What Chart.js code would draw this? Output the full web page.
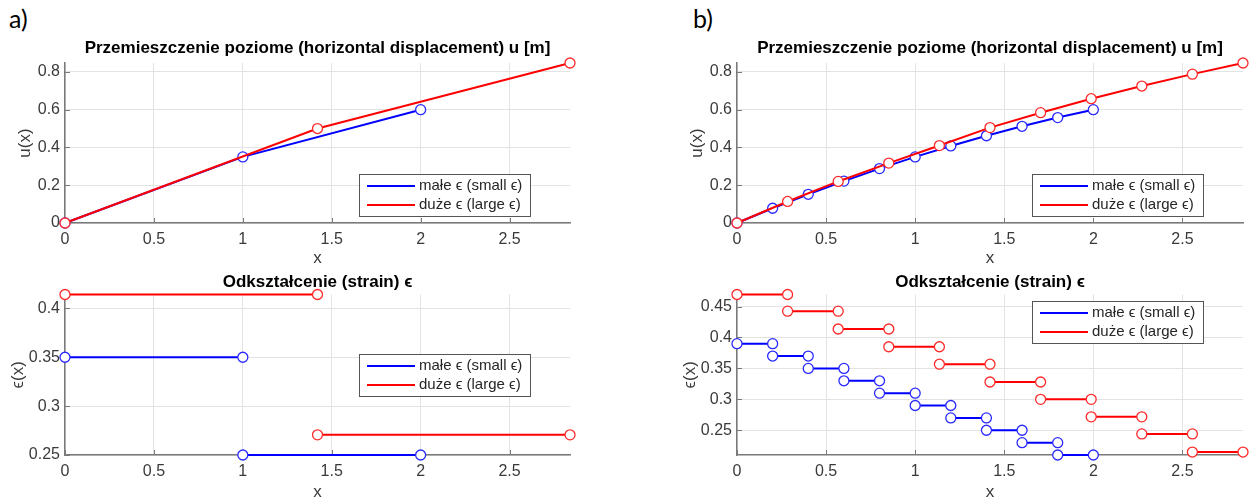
<!DOCTYPE html>
<html>
<head>
<meta charset="utf-8">
<script src="https://cdn.jsdelivr.net/npm/chart.js@4.4.1/dist/chart.umd.min.js"></script>
<style>
html, body { margin: 0; padding: 0; background: #fff; width: 1250px; height: 503px; overflow: hidden; }
canvas { position: absolute; }
.lab { position: absolute; font-family: Lato, 'Open Sans', sans-serif; font-size: 25px; color: #000; }
</style>
</head>
<body>
<div class="lab" style="left:9px; top:3px;">a)</div>
<div class="lab" style="left:693px; top:3px;">b)</div>
<canvas id="uA" width="600" height="273" style="left:0; top:0;"></canvas>
<canvas id="eA" width="600" height="253" style="left:0; top:250px;"></canvas>
<canvas id="uB" width="578" height="273" style="left:672px; top:0;"></canvas>
<canvas id="eB" width="578" height="253" style="left:672px; top:250px;"></canvas>
<script>
// a) one element (small) / one element (large)
var nodesSmallA = [0, 1, 2];
var uSmallA = [0, 0.35, 0.6];
var strainSmallA = [0.35, 0.25];
var nodesLargeA = [0, 1.42, 2.84];
var uLargeA = [0, 0.5, 0.847];
var strainLargeA = [0.4142, 0.2706];

// b) ten elements
var nodesSmallB = [0, 0.2, 0.4, 0.6, 0.8, 1.0, 1.2, 1.4, 1.6, 1.8, 2.0];
var uSmallB = [0, 0.078, 0.152, 0.222, 0.288, 0.35, 0.408, 0.462, 0.512, 0.558, 0.6];
var strainSmallB = [0.39, 0.37, 0.35, 0.33, 0.31, 0.29, 0.27, 0.25, 0.23, 0.21];
var nodesLargeB = [0, 0.284, 0.568, 0.852, 1.136, 1.42, 1.704, 1.988, 2.272, 2.556, 2.84];
var uLargeB = [0, 0.114, 0.22, 0.317, 0.41, 0.505, 0.584, 0.658, 0.725, 0.788, 0.847];
var strainLargeB = [0.4695, 0.4425, 0.4137, 0.385, 0.3568, 0.328, 0.3, 0.2717, 0.2441, 0.2148];

var labelSmall = 'ma\u0142e \u03f5 (small \u03f5)';
var labelLarge = 'du\u017ce \u03f5 (large \u03f5)';
var titleU = 'Przemieszczenie poziome (horizontal displacement) u [m]';
var titleE = 'Odkszta\u0142cenie (strain) \u03f5';

var axisC = '#7a7a7a', gridC = '#e3e3e3', textC = '#3a3a3a';
Chart.defaults.font.family = "'Liberation Sans', Arial, sans-serif";
Chart.defaults.color = textC;

function nodal(xs, ys) {
    return xs.map(function (x, i) { return { x: x, y: ys[i] }; });
}
// one flat segment per element, broken between elements
function steps(xs, vals) {
    var out = [];
    for (let i = 0; i < vals.length; i++) {
        out.push({ x: xs[i], y: vals[i] }, { x: xs[i + 1], y: vals[i] });
        if (i < vals.length - 1) out.push({ x: xs[i + 1], y: null });
    }
    return out;
}

var innerTicks = {
    id: 'innerTicks',
    beforeDatasetsDraw(chart) {
        const ctx = chart.ctx, a = chart.chartArea, x = chart.scales.x, y = chart.scales.y;
        ctx.save();
        ctx.strokeStyle = axisC;
        ctx.lineWidth = 1;
        x.ticks.forEach(function (t) {
            const p = Math.round(x.getPixelForValue(t.value)) + 0.5;
            ctx.beginPath(); ctx.moveTo(p, a.bottom); ctx.lineTo(p, a.bottom - 5); ctx.stroke();
        });
        y.ticks.forEach(function (t) {
            const p = Math.round(y.getPixelForValue(t.value)) + 0.5;
            ctx.beginPath(); ctx.moveTo(a.left, p); ctx.lineTo(a.left + 5, p); ctx.stroke();
        });
        ctx.restore();
    }
};

var boxLegend = {
    id: 'boxLegend',
    afterDraw(chart, args, o) {
        const ctx = chart.ctx, a = chart.chartArea;
        const w = 171, h = 42;
        const left = Math.round(a.right - o.right - w), top = Math.round(a.top + o.top);
        ctx.save();
        ctx.fillStyle = '#fff';
        ctx.fillRect(left, top, w, h);
        ctx.strokeStyle = '#555';
        ctx.lineWidth = 1;
        ctx.strokeRect(left + 0.5, top + 0.5, w, h);
        ctx.font = "15px 'Liberation Sans', Arial, sans-serif";
        ctx.textBaseline = 'middle';
        ctx.fillStyle = '#262626';
        chart.data.datasets.forEach(function (ds, i) {
            const yy = top + 12 + i * 19;
            ctx.strokeStyle = ds.borderColor;
            ctx.lineWidth = 2;
            ctx.beginPath(); ctx.moveTo(left + 8, yy); ctx.lineTo(left + 56, yy); ctx.stroke();
            ctx.fillText(ds.label, left + 60, yy);
        });
        ctx.restore();
    }
};

function fmt(v) { return String(Math.round(v * 1000) / 1000); }

function makeChart(id, blue, red, cfg) {
    const common = { borderWidth: 2, pointRadius: 5, pointBorderWidth: 1.3, pointBackgroundColor: '#fff',
        tension: 0, clip: false, spanGaps: false, showLine: true };
    return new Chart(document.getElementById(id), {
        type: 'line',
        data: {
            datasets: [
                Object.assign({ label: labelSmall, data: blue, borderColor: '#0000ff', pointBorderColor: '#2a2aff', order: 1 }, common),
                Object.assign({ label: labelLarge, data: red, borderColor: '#ff0000', pointBorderColor: '#ff2a2a', order: 0 }, common)
            ]
        },
        options: {
            responsive: false,
            animation: false,
            events: [],
            layout: { padding: cfg.pad },
            scales: {
                x: {
                    type: 'linear', min: 0, max: 2.84,
                    ticks: { stepSize: 0.5, includeBounds: false, padding: 7, maxRotation: 0, autoSkip: false,
                        font: { size: 16 }, color: textC, callback: fmt },
                    grid: { color: gridC, drawTicks: false },
                    border: { color: axisC, width: 1.5 },
                    title: { display: true, text: 'x', font: { size: 17 }, color: textC, padding: cfg.xTitlePad },
                    afterFit(s) { s.height = cfg.xH; }
                },
                y: {
                    type: 'linear', min: cfg.yMin, max: cfg.yMax,
                    ticks: { stepSize: cfg.yStep, includeBounds: false, padding: 5,
                        font: { size: 16 }, color: textC, callback: fmt },
                    grid: { color: gridC, drawTicks: false },
                    border: { color: axisC, width: 1.5 },
                    title: { display: true, text: cfg.yTitle, font: { size: 17 }, color: textC, padding: { top: 4, bottom: 0 } },
                    afterFit(s) { s.width = cfg.yW; }
                }
            },
            plugins: {
                legend: { display: false },
                tooltip: { enabled: false },
                title: { display: true, fullSize: false, text: cfg.title, color: '#000', font: { size: 17, weight: 'bold' },
                    padding: cfg.titlePad },
                boxLegend: cfg.legend
            }
        },
        plugins: [innerTicks, boxLegend]
    });
}

var topCfg = { xH: 50, xTitlePad: { top: 0, bottom: 4 }, titlePad: { top: 0, bottom: 4.8 },
    yMin: 0, yMax: 0.847, yStep: 0.2, yTitle: 'u(x)', title: titleU };
var botCfg = { xH: 48, xTitlePad: { top: 0, bottom: 0 }, titlePad: { top: 0, bottom: 1.8 },
    yStep: 0.05, yTitle: '\u03f5(x)', title: titleE };

makeChart('uA', nodal(nodesSmallA, uSmallA), nodal(nodesLargeA, uLargeA),
    Object.assign({}, topCfg, { yW: 53.6, pad: { left: 11.4, right: 30, top: 37.8, bottom: 0 }, legend: { right: 40, top: 111 } }));
makeChart('eA', steps(nodesSmallA, strainSmallA), steps(nodesLargeA, strainLargeA),
    Object.assign({}, botCfg, { yW: 61.2, yMin: 0.25, yMax: 0.4142, pad: { left: 3.8, right: 30, top: 22.3, bottom: 0 },
        legend: { right: 40, top: 59.5 } }));
makeChart('uB', nodal(nodesSmallB, uSmallB), nodal(nodesLargeB, uLargeB),
    Object.assign({}, topCfg, { yW: 53.6, pad: { left: 11.4, right: 7, top: 37.8, bottom: 0 }, legend: { right: 40, top: 111 } }));
makeChart('eB', steps(nodesSmallB, strainSmallB), steps(nodesLargeB, strainLargeB),
    Object.assign({}, botCfg, { yW: 61.2, yMin: 0.21, yMax: 0.4695, pad: { left: 3.8, right: 7, top: 22.3, bottom: 0 },
        legend: { right: 40, top: 6.5 } }));
</script>
</body>
</html>
